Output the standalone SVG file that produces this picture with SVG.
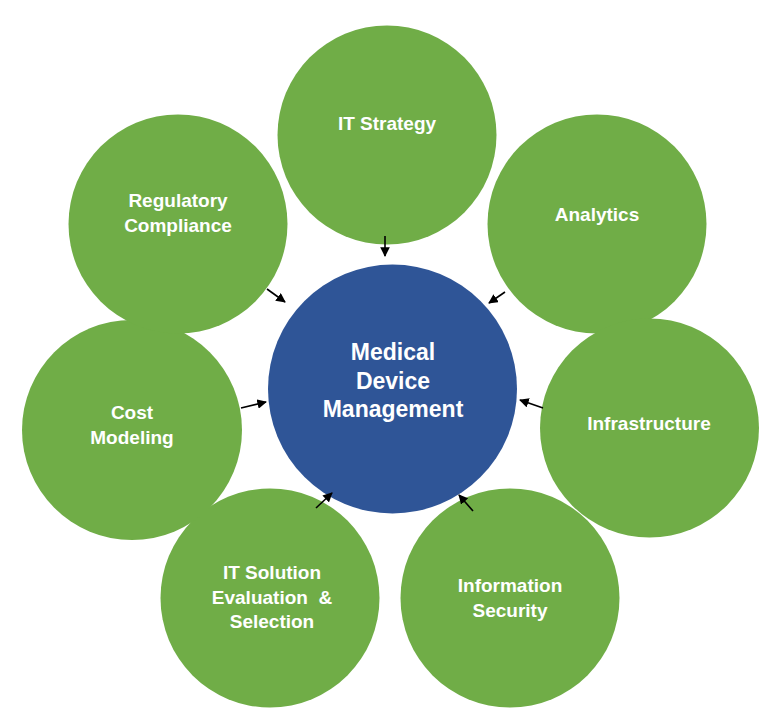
<svg xmlns="http://www.w3.org/2000/svg" width="768" height="723" viewBox="0 0 768 723">
<defs>
<style>
.g{fill:#70AD47}
.b{fill:#2F5597}
.t{fill:#fff;font-family:"Liberation Sans",Arial,sans-serif;font-weight:bold;font-size:19px;text-anchor:middle}
.tc{font-size:23px}
.c{stroke:#000;stroke-width:1.6;fill:none;marker-end:url(#ah)}
</style>
<marker id="ah" viewBox="0 0 10 10" refX="9" refY="5" markerWidth="6" markerHeight="6" orient="auto" markerUnits="strokeWidth">
<path d="M0,0 L10,5 L0,10 z" fill="#000"/>
</marker>
</defs>
<rect width="768" height="723" fill="#fff"/>
<g id="center">
<circle class="b" cx="392.5" cy="389" r="124.5"/>
<text class="t tc" x="393" y="360">Medical</text>
<text class="t tc" x="393" y="389">Device</text>
<text class="t tc" x="393" y="417">Management</text>
</g>
<g id="it-strategy">
<circle class="g" cx="387" cy="135" r="109.5"/>
<text class="t" x="387" y="130">IT Strategy</text>
</g>
<g id="analytics">
<circle class="g" cx="597" cy="224" r="109.5"/>
<text class="t" x="597" y="221">Analytics</text>
</g>
<g id="infrastructure">
<circle class="g" cx="649.5" cy="428" r="109.5"/>
<text class="t" x="649" y="430">Infrastructure</text>
</g>
<g id="information-security">
<circle class="g" cx="510" cy="598" r="109.5"/>
<text class="t" x="510" y="592">Information</text>
<text class="t" x="510" y="617">Security</text>
</g>
<g id="it-solution">
<circle class="g" cx="270" cy="598" r="109.5"/>
<text class="t" x="272" y="579">IT Solution</text>
<text class="t" x="272" y="604" xml:space="preserve">Evaluation  &amp;</text>
<text class="t" x="272" y="628">Selection</text>
</g>
<g id="cost-modeling">
<circle class="g" cx="132" cy="430" r="110"/>
<text class="t" x="132" y="419">Cost</text>
<text class="t" x="132" y="444">Modeling</text>
</g>
<g id="regulatory-compliance">
<circle class="g" cx="178" cy="224" r="109.5"/>
<text class="t" x="178" y="207">Regulatory</text>
<text class="t" x="178" y="232">Compliance</text>
</g>
<g id="connectors">
<line class="c" x1="385" y1="236" x2="385" y2="256"/>
<line class="c" x1="267" y1="289" x2="285" y2="302"/>
<line class="c" x1="505" y1="292" x2="489" y2="303"/>
<line class="c" x1="241" y1="408" x2="266" y2="402"/>
<line class="c" x1="543" y1="408" x2="520" y2="400"/>
<line class="c" x1="316" y1="508" x2="332" y2="493"/>
<line class="c" x1="473" y1="511" x2="459" y2="495"/>
</g>
</svg>
